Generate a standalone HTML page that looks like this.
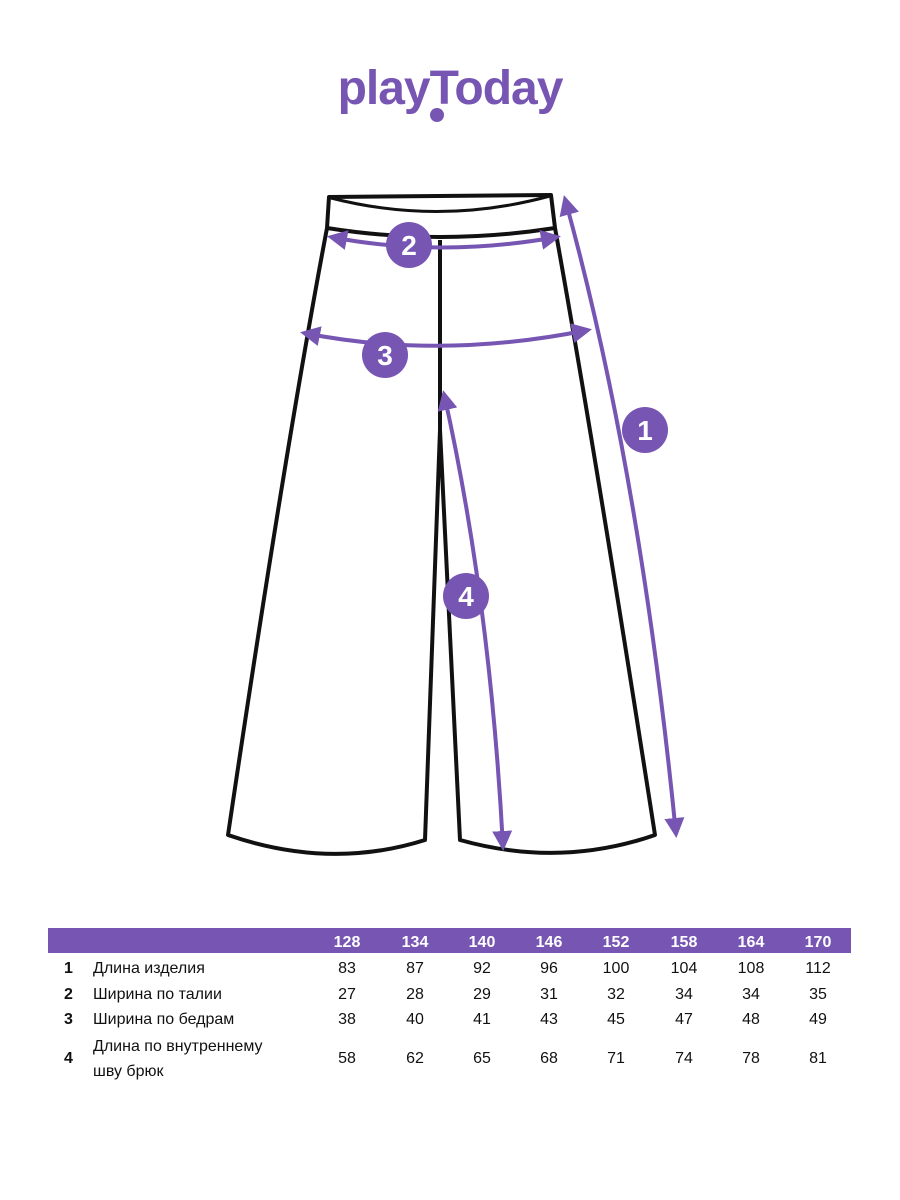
<!DOCTYPE html>
<html><head><meta charset="utf-8"><style>
body{margin:0;background:#fff;width:900px;height:1200px;overflow:hidden;font-family:"Liberation Sans",sans-serif;}
svg{position:absolute;left:0;top:0}
</style></head><body>
<svg width="900" height="1200" viewBox="0 0 900 1200">
<defs><marker id="a" viewBox="0 0 10 10" refX="8" refY="5" markerWidth="5" markerHeight="5" orient="auto-start-reverse"><path d="M0,0L10,5L0,10z" fill="#7755b3"/></marker></defs>
<text x="450" y="104" text-anchor="middle" font-size="48" font-weight="bold" fill="#7755b3" font-family="Liberation Sans, sans-serif" letter-spacing="-1">playToday</text>
<circle cx="437" cy="115" r="7" fill="#7755b3"/>
<g fill="none" stroke="#111" stroke-width="4" stroke-linejoin="round">
<path d="M329,197 L551,195 L555,228 Q440,246 327,228 Z"/>
<path d="M331,198 Q440,226 550,196" stroke-width="3"/>
<path d="M327,228 Q285,450 228,835 Q330,870 425,840 L440,430 L460,840 Q560,868 655,835 Q595,450 555,228"/>
<path d="M440,240 L440,430"/>
</g>
<g fill="none" stroke="#7755b3" stroke-width="4" marker-start="url(#a)" marker-end="url(#a)">
<path d="M331,237 Q440,258 557,237"/>
<path d="M304,333 Q440,360 588,330"/>
<path d="M565,199 Q640,470 676,834"/>
<path d="M444,394 Q490,600 503,847"/>
</g>
<g fill="#7755b3"><circle cx="409" cy="245" r="23"/><circle cx="385" cy="355" r="23"/><circle cx="645" cy="430" r="23"/><circle cx="466" cy="596" r="23"/></g>
<g fill="#fff" font-size="28" font-weight="bold" text-anchor="middle"><text x="409" y="255">2</text><text x="385" y="365">3</text><text x="645" y="440">1</text><text x="466" y="606">4</text></g>
<rect x="48" y="928" width="803" height="25" fill="#7755b3"/>
<g fill="#fff" font-size="16" font-weight="bold" text-anchor="middle">
<text x="347" y="947">128</text><text x="415" y="947">134</text><text x="482" y="947">140</text><text x="549" y="947">146</text><text x="616" y="947">152</text><text x="684" y="947">158</text><text x="751" y="947">164</text><text x="818" y="947">170</text></g>
<g font-size="16" fill="#111">
<g font-weight="bold"><text x="64" y="973">1</text><text x="64" y="999">2</text><text x="64" y="1024">3</text><text x="64" y="1063">4</text></g>
<text x="93" y="973">Длина изделия</text><text x="93" y="999">Ширина по талии</text><text x="93" y="1024">Ширина по бедрам</text><text x="93" y="1051">Длина по внутреннему</text><text x="93" y="1076">шву брюк</text>
<g text-anchor="middle">
<text x="347" y="973">83</text><text x="415" y="973">87</text><text x="482" y="973">92</text><text x="549" y="973">96</text><text x="616" y="973">100</text><text x="684" y="973">104</text><text x="751" y="973">108</text><text x="818" y="973">112</text>
<text x="347" y="999">27</text><text x="415" y="999">28</text><text x="482" y="999">29</text><text x="549" y="999">31</text><text x="616" y="999">32</text><text x="684" y="999">34</text><text x="751" y="999">34</text><text x="818" y="999">35</text>
<text x="347" y="1024">38</text><text x="415" y="1024">40</text><text x="482" y="1024">41</text><text x="549" y="1024">43</text><text x="616" y="1024">45</text><text x="684" y="1024">47</text><text x="751" y="1024">48</text><text x="818" y="1024">49</text>
<text x="347" y="1063">58</text><text x="415" y="1063">62</text><text x="482" y="1063">65</text><text x="549" y="1063">68</text><text x="616" y="1063">71</text><text x="684" y="1063">74</text><text x="751" y="1063">78</text><text x="818" y="1063">81</text>
</g></g>
</svg>
</body></html>
